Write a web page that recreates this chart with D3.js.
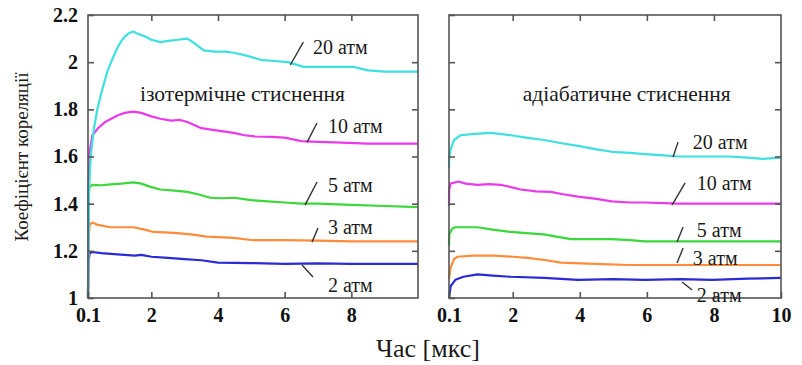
<!DOCTYPE html>
<html><head><meta charset="utf-8">
<script src="https://cdn.jsdelivr.net/npm/d3@7"></script>
<style>body{margin:0;background:#fff}svg{display:block}
text{font-family:"Liberation Serif","Times New Roman","DejaVu Serif","Noto Serif",serif !important}</style>
</head><body>
<svg id="c" width="802" height="365"></svg>
<script>
// ---- data ----
const pressures = ["2 атм","3 атм","5 атм","10 атм","20 атм"];
const colors = ["#2a2ad6","#ff8c3a","#3ad83a","#ea3aea","#3ee0e0"];
const xTicksLeft = [0.1,2,4,6,8];
const xTicksRight = [0.1,2,4,6,8,10];
const yTicks = [1,1.2,1.4,1.6,1.8,2,2.2];
const yTickLabels = ["1","1.2","1.4","1.6","1.8","2","2.2"];

// isothermal compression (left panel), [time µs, coefficient]
const iso2 = [[0.1,1.0],[0.11,1.15],[0.15,1.19],[0.23,1.195],[0.5,1.19],[0.98,1.185],[1.5,1.18],[1.7,1.183],[2.0,1.175],[2.5,1.17],[3.0,1.165],[3.5,1.16],[4.0,1.15],[5,1.148],[6,1.145],[7,1.147],[8,1.145],[10,1.145]];
const iso3 = [[0.1,1.0],[0.11,1.25],[0.15,1.31],[0.23,1.32],[0.4,1.31],[0.77,1.30],[1.1,1.30],[1.46,1.30],[1.8,1.29],[2.06,1.28],[2.4,1.278],[2.77,1.275],[3.2,1.27],[3.66,1.26],[4.0,1.258],[4.47,1.255],[5.07,1.245],[6,1.245],[7,1.243],[8,1.24],[10,1.24]];
const iso5 = [[0.1,1.0],[0.11,1.4],[0.14,1.47],[0.23,1.48],[0.5,1.478],[0.77,1.482],[1.1,1.485],[1.46,1.49],[1.7,1.485],[2.0,1.47],[2.27,1.46],[2.7,1.455],[3.08,1.45],[3.4,1.44],[3.77,1.425],[4.1,1.423],[4.47,1.425],[5.0,1.415],[5.5,1.41],[6.0,1.405],[6.5,1.40],[7.0,1.40],[8.0,1.395],[9.0,1.39],[10,1.385]];
const iso10 = [[0.1,1.0],[0.12,1.5],[0.15,1.62],[0.23,1.69],[0.4,1.72],[0.6,1.745],[0.8,1.76],[1.0,1.775],[1.2,1.785],[1.46,1.79],[1.7,1.785],[2.0,1.77],[2.27,1.76],[2.6,1.752],[2.87,1.755],[3.1,1.745],[3.5,1.72],[4.0,1.71],[4.47,1.70],[4.8,1.69],[5.1,1.685],[5.6,1.683],[6.0,1.68],[6.5,1.665],[7.0,1.662],[7.5,1.66],[8.5,1.655],[10,1.655]];
const iso20 = [[0.1,1.0],[0.13,1.45],[0.18,1.6],[0.28,1.72],[0.38,1.8],[0.52,1.88],[0.68,1.96],[0.82,2.01],[0.98,2.06],[1.1,2.09],[1.22,2.11],[1.35,2.125],[1.46,2.13],[1.6,2.12],[1.8,2.11],[2.0,2.095],[2.27,2.085],[2.5,2.09],[2.8,2.095],[3.08,2.1],[3.3,2.08],[3.57,2.05],[3.9,2.045],[4.2,2.045],[4.47,2.04],[4.8,2.03],[5.28,2.01],[5.7,2.005],[6.1,2.0],[6.57,1.98],[7.0,1.98],[7.5,1.98],[8.07,1.98],[8.5,1.965],[9.0,1.96],[10,1.96]];

// adiabatic compression (right panel)
const adi2 = [[0.1,1.0],[0.15,1.05],[0.29,1.077],[0.53,1.09],[0.95,1.10],[1.4,1.095],[1.94,1.09],[2.93,1.085],[3.95,1.077],[5,1.08],[5.94,1.077],[7,1.08],[7.95,1.077],[9,1.082],[10,1.085]];
const adi3 = [[0.1,1.08],[0.15,1.13],[0.25,1.165],[0.35,1.175],[0.8,1.18],[1.43,1.18],[2.0,1.175],[2.45,1.17],[3.0,1.16],[3.44,1.15],[4.45,1.145],[5.45,1.14],[7,1.14],[10,1.14]];
const adi5 = [[0.1,1.22],[0.11,1.27],[0.2,1.295],[0.29,1.30],[0.6,1.30],[0.95,1.30],[1.4,1.29],[1.94,1.28],[2.4,1.275],[2.93,1.27],[3.3,1.26],[3.74,1.25],[4.3,1.25],[4.95,1.25],[5.5,1.245],[5.94,1.24],[7,1.24],[10,1.24]];
const adi10 = [[0.1,1.39],[0.105,1.46],[0.15,1.485],[0.38,1.494],[0.6,1.485],[0.95,1.48],[1.3,1.483],[1.64,1.48],[1.95,1.47],[2.24,1.46],[2.7,1.452],[3.14,1.45],[3.5,1.44],[3.95,1.43],[4.5,1.42],[4.95,1.41],[5.5,1.405],[5.94,1.405],[6.5,1.402],[6.95,1.40],[8,1.40],[10,1.40]];
const adi20 = [[0.1,1.55],[0.11,1.6],[0.15,1.63],[0.25,1.67],[0.44,1.69],[0.8,1.695],[1.34,1.70],[1.94,1.69],[2.4,1.68],[2.93,1.67],[3.5,1.655],[3.95,1.645],[4.5,1.63],[4.95,1.62],[5.5,1.615],[5.94,1.61],[6.5,1.605],[6.95,1.60],[7.5,1.60],[8.45,1.60],[9.0,1.595],[9.45,1.59],[10,1.595]];

// label anchors in data units: [textT, textV, leaderT1, leaderV1, leaderT2, leaderV2]
const isoLabels = [[7.3,1.055,6.52,1.14,6.85,1.089],[7.3,1.301,6.82,1.237,7.0,1.297],[7.3,1.479,6.61,1.394,6.97,1.492],[7.3,1.729,6.67,1.66,6.97,1.742],[6.85,2.064,6.17,1.988,6.56,2.085]];
const adiLabels = [[7.49,1.013,7.05,1.068,7.35,1.034],[7.37,1.17,6.9,1.148,7.08,1.212],[7.49,1.288,6.9,1.237,7.08,1.301],[7.49,1.488,6.75,1.394,7.14,1.488],[7.37,1.661,6.78,1.598,6.93,1.661]];

const panels = [
  {title:"ізотермічне стиснення", titlePos:[1.66,1.869], series:[iso2,iso3,iso5,iso10,iso20], labels:isoLabels, xTicks:xTicksLeft, x0:88, x1:418, yLabels:true},
  {title:"адіабатичне стиснення", titlePos:[2.3,1.869], series:[adi2,adi3,adi5,adi10,adi20], labels:adiLabels, xTicks:xTicksRight, x0:449, x1:781, yLabels:false}
];

const svg = d3.select("#c");
const plotTop = 15, plotBottom = 298;
const y = d3.scaleLinear().domain([1,2.2]).range([plotBottom, plotTop]);

panels.forEach(p => {
  const x = d3.scaleLinear().domain([0.1,10]).range([p.x0, p.x1]);
  const g = svg.append("g");
  const line = d3.line().x(d=>x(d[0])).y(d=>y(d[1])).curve(d3.curveLinear);

  p.series.forEach((s,i)=>{
    g.append("path").datum(s).attr("d",line).attr("fill","none")
      .attr("stroke",colors[i]).attr("stroke-width",2.2).attr("stroke-linejoin","round");
  });

  g.append("rect").attr("x",p.x0).attr("y",plotTop).attr("width",p.x1-p.x0).attr("height",plotBottom-plotTop)
    .attr("fill","none").attr("stroke","#555").attr("stroke-width",1.6);

  const xb = g.append("g").attr("transform",`translate(0,${plotBottom})`)
    .call(d3.axisBottom(x).tickValues(p.xTicks).tickSize(-6).tickPadding(10).tickFormat(d=>d===0.1?"0.1":d3.format("d")(d)));
  const xt = g.append("g").attr("transform",`translate(0,${plotTop})`)
    .call(d3.axisTop(x).tickValues(p.xTicks.filter(t=>t>0.1 && t<10)).tickSize(-6).tickFormat(""));
  const yl = g.append("g").attr("transform",`translate(${p.x0},0)`)
    .call(d3.axisLeft(y).tickValues(yTicks).tickSize(-6).tickPadding(10).tickFormat((d,i)=>p.yLabels?yTickLabels[i]:""));
  const yr = g.append("g").attr("transform",`translate(${p.x1},0)`)
    .call(d3.axisRight(y).tickValues(yTicks.slice(1,-1)).tickSize(-6).tickFormat(""));
  [xb,xt,yl,yr].forEach(a=>{
    a.select(".domain").remove();
    a.selectAll(".tick line").attr("stroke","#555").attr("stroke-width",1.6);
    a.selectAll(".tick text").attr("font-weight","bold").attr("font-size",20).attr("fill","#111");
  });

  g.append("text").attr("x",x(p.titlePos[0])).attr("y",y(p.titlePos[1])).attr("dy","0.35em")
    .attr("font-size",21.5).attr("fill","#1a1a1a").text(p.title);

  p.labels.forEach((l,i)=>{
    g.append("line").attr("x1",x(l[2])).attr("y1",y(l[3])).attr("x2",x(l[4])).attr("y2",y(l[5]))
      .attr("stroke","#333").attr("stroke-width",1.4);
    g.append("text").attr("x",x(l[0])).attr("y",y(l[1])).attr("dy","0.35em")
      .attr("font-size",20).attr("fill","#1a1a1a").text(pressures[i]);
  });
});

svg.append("text").attr("x",428).attr("y",348).attr("dy","0.35em").attr("text-anchor","middle")
  .attr("font-size",26).attr("fill","#1a1a1a").text("Час [мкс]");
svg.append("text").attr("transform","translate(21,157) rotate(-90)").attr("dy","0.35em").attr("text-anchor","middle")
  .attr("font-size",19).attr("fill","#1a1a1a").text("Коефіцієнт кореляції");
</script>
</body></html>
